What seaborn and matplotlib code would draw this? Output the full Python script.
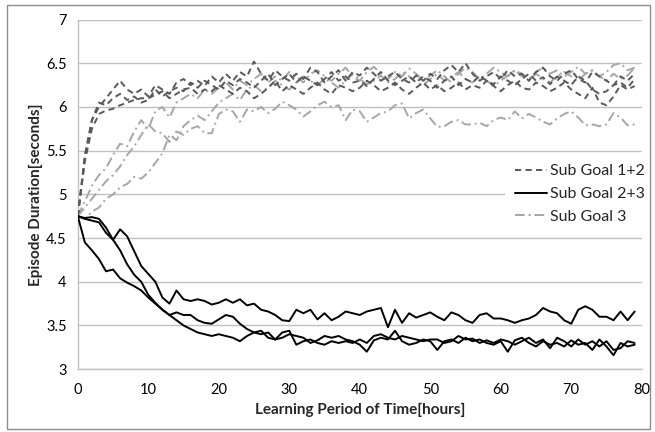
import matplotlib
matplotlib.use("Agg")
import matplotlib.pyplot as plt
import seaborn as sns
import pandas as pd
from matplotlib.lines import Line2D
from matplotlib.patches import Rectangle

hours = list(range(80))

goal12_run1 = [4.75,5.45,5.85,6.00,6.10,6.20,6.30,6.20,6.15,6.20,
               6.12,6.25,6.20,6.15,6.28,6.32,6.25,6.30,6.24,6.35,
               6.28,6.38,6.30,6.40,6.35,6.52,6.38,6.30,6.42,6.35,
               6.30,6.38,6.32,6.45,6.40,6.28,6.35,6.42,6.30,6.40,
               6.36,6.45,6.38,6.30,6.35,6.40,6.32,6.28,6.36,6.30,
               6.38,6.32,6.42,6.48,6.40,6.50,6.38,6.30,6.35,6.40,
               6.32,6.42,6.35,6.38,6.30,6.40,6.45,6.35,6.30,6.38,
               6.42,6.32,6.28,6.40,6.35,6.30,6.25,6.35,6.30,6.38]
goal12_run2 = [4.75,5.38,5.75,5.92,5.96,5.98,6.02,6.05,6.08,6.10,
               6.10,6.14,6.18,6.10,6.15,6.20,6.22,6.15,6.20,6.18,
               6.25,6.20,6.15,6.22,6.18,6.10,6.15,6.22,6.30,6.18,
               6.25,6.20,6.15,6.22,6.28,6.20,6.15,6.25,6.22,6.18,
               6.22,6.30,6.25,6.18,6.22,6.28,6.20,6.15,6.22,6.28,
               6.20,6.25,6.18,6.22,6.28,6.20,6.25,6.22,6.30,6.24,
               6.18,6.25,6.30,6.22,6.20,6.28,6.24,6.18,6.22,6.28,
               6.20,6.15,6.10,6.22,6.05,6.02,6.12,6.25,6.20,6.24]
goal12_run3 = [4.75,5.42,5.85,6.05,6.02,6.10,6.15,6.08,6.12,6.05,
               6.08,6.20,6.12,6.18,6.22,6.18,6.28,6.22,6.30,6.25,
               6.20,6.30,6.25,6.32,6.28,6.22,6.30,6.38,6.25,6.32,
               6.38,6.28,6.35,6.30,6.25,6.32,6.40,6.30,6.35,6.28,
               6.30,6.24,6.32,6.40,6.30,6.25,6.30,6.35,6.28,6.35,
               6.30,6.22,6.30,6.35,6.25,6.32,6.28,6.36,6.30,6.26,
               6.35,6.30,6.25,6.32,6.38,6.30,6.34,6.26,6.35,6.30,
               6.25,6.35,6.30,6.20,6.15,6.18,6.25,6.28,6.22,6.32]

goal23_run1 = [4.75,4.73,4.74,4.72,4.62,4.48,4.60,4.52,4.35,4.18,
               4.09,4.00,3.82,3.75,3.90,3.80,3.78,3.80,3.78,3.74,
               3.76,3.80,3.76,3.80,3.73,3.75,3.68,3.66,3.62,3.56,
               3.55,3.68,3.64,3.68,3.57,3.64,3.56,3.60,3.66,3.64,
               3.62,3.66,3.68,3.70,3.48,3.68,3.53,3.64,3.59,3.62,
               3.65,3.60,3.56,3.65,3.62,3.56,3.53,3.62,3.64,3.58,
               3.58,3.56,3.53,3.56,3.58,3.62,3.70,3.66,3.64,3.56,
               3.52,3.68,3.72,3.68,3.60,3.60,3.56,3.66,3.56,3.66]
goal23_run2 = [4.75,4.45,4.36,4.26,4.12,4.14,4.04,3.99,3.95,3.90,
               3.82,3.75,3.68,3.62,3.65,3.62,3.62,3.56,3.53,3.52,
               3.57,3.62,3.60,3.52,3.46,3.42,3.40,3.42,3.34,3.36,
               3.40,3.38,3.36,3.30,3.33,3.38,3.36,3.38,3.34,3.32,
               3.28,3.20,3.33,3.36,3.34,3.44,3.32,3.28,3.30,3.34,
               3.32,3.22,3.32,3.34,3.30,3.36,3.32,3.34,3.30,3.28,
               3.32,3.20,3.33,3.36,3.30,3.26,3.32,3.28,3.30,3.26,
               3.33,3.28,3.30,3.22,3.34,3.26,3.16,3.30,3.26,3.28]
goal23_run3 = [4.75,4.72,4.70,4.68,4.56,4.48,4.36,4.20,4.08,4.00,
               3.85,3.76,3.68,3.62,3.56,3.50,3.46,3.42,3.40,3.38,
               3.40,3.38,3.36,3.32,3.38,3.42,3.44,3.36,3.34,3.42,
               3.44,3.28,3.32,3.34,3.30,3.28,3.32,3.30,3.32,3.30,
               3.34,3.30,3.38,3.40,3.36,3.34,3.38,3.36,3.34,3.32,
               3.34,3.34,3.30,3.32,3.38,3.34,3.35,3.30,3.33,3.30,
               3.34,3.32,3.28,3.32,3.36,3.30,3.34,3.24,3.36,3.32,
               3.26,3.34,3.28,3.32,3.26,3.32,3.22,3.24,3.32,3.30]

goal3_run1 = [4.75,4.92,5.10,5.22,5.30,5.45,5.58,5.55,5.72,5.85,
              5.75,5.95,6.00,5.88,6.05,6.10,6.15,6.10,6.20,6.15,
              6.22,6.28,6.20,6.30,6.25,6.32,6.38,6.28,6.35,6.30,
              6.40,6.35,6.28,6.38,6.42,6.35,6.30,6.38,6.45,6.35,
              6.30,6.40,6.46,6.38,6.32,6.40,6.35,6.44,6.38,6.30,
              6.36,6.42,6.35,6.28,6.38,6.45,6.40,6.32,6.38,6.45,
              6.40,6.35,6.42,6.38,6.32,6.40,6.45,6.38,6.42,6.35,
              6.40,6.46,6.38,6.42,6.35,6.40,6.48,6.50,6.42,6.45]
goal3_run2 = [4.75,4.85,4.95,5.05,5.15,5.22,5.32,5.45,5.55,5.68,
              5.80,5.72,5.70,5.60,5.72,5.68,5.75,5.78,5.70,5.70,
              5.92,5.97,5.95,5.83,5.97,5.95,6.00,5.93,5.98,6.06,
              6.02,5.97,5.89,5.95,6.02,6.06,6.00,6.02,5.85,5.97,
              5.95,5.83,5.88,5.93,5.95,6.02,6.04,5.87,5.93,5.97,
              5.87,5.77,5.78,5.83,5.85,5.80,5.80,5.82,5.78,5.85,
              5.88,5.85,5.95,5.87,5.92,5.88,5.83,5.80,5.87,5.92,
              5.95,5.88,5.79,5.80,5.78,5.80,5.93,5.88,5.79,5.80]
goal3_run3 = [4.75,4.72,4.80,4.85,4.95,5.00,5.08,5.12,5.20,5.18,
              5.25,5.36,5.47,5.68,5.62,5.78,5.85,5.90,5.85,5.95,
              6.05,6.10,6.15,6.08,6.20,6.25,6.18,6.22,6.30,6.25,
              6.20,6.28,6.35,6.30,6.25,6.32,6.28,6.22,6.30,6.38,
              6.32,6.26,6.30,6.36,6.28,6.32,6.40,6.35,6.28,6.25,
              6.32,6.38,6.30,6.34,6.40,6.32,6.28,6.35,6.30,6.24,
              6.30,6.36,6.42,6.35,6.30,6.38,6.32,6.28,6.35,6.40,
              6.35,6.30,6.38,6.42,6.35,6.30,6.38,6.32,6.36,6.45]

group_names = ["Sub Goal 1+2", "Sub Goal 2+3", "Sub Goal 3"]
x_ticks = [0, 10, 20, 30, 40, 50, 60, 70, 80]
y_ticks = [3, 3.5, 4, 4.5, 5, 5.5, 6, 6.5, 7]
y_tick_labels = ["3", "3.5", "4", "4.5", "5", "5.5", "6", "6.5", "7"]

runs_by_group = {
    "Sub Goal 1+2": [goal12_run1, goal12_run2, goal12_run3],
    "Sub Goal 2+3": [goal23_run1, goal23_run2, goal23_run3],
    "Sub Goal 3": [goal3_run1, goal3_run2, goal3_run3],
}

rows = []
for g in ["Sub Goal 3", "Sub Goal 1+2", "Sub Goal 2+3"]:
    for i, vals in enumerate(runs_by_group[g]):
        for h, v in zip(hours, vals):
            rows.append((g, f"{g}-{i}", h, v))
df = pd.DataFrame(rows, columns=["group", "run", "hour", "value"])

sns.set_theme(style="white")
plt.rcParams['font.family'] = ['Lato', 'DejaVu Sans']

palette = {"Sub Goal 1+2": "#595959", "Sub Goal 2+3": "#000000", "Sub Goal 3": "#a6a6a6"}
dashes = {"Sub Goal 1+2": (3.2, 2.2), "Sub Goal 2+3": "", "Sub Goal 3": (5, 2, 1, 2)}

fig = plt.figure(figsize=(6.55, 4.32), dpi=100)
ax = fig.add_axes([0.1188, 0.1454, 0.8609, 0.8093])

sns.lineplot(data=df, x="hour", y="value", hue="group", style="group",
             units="run", estimator=None, palette=palette, dashes=dashes,
             linewidth=1.4, legend=False, ax=ax, sort=False, zorder=3)

ax.set_xlim(0, 80)
ax.set_ylim(3, 7)
ax.set_xticks(x_ticks)
ax.set_xticklabels([str(t) for t in x_ticks])
ax.set_yticks(y_ticks)
ax.set_yticklabels(y_tick_labels)
ax.yaxis.grid(True, color="#c0c0c0", linewidth=1.0, zorder=0)
ax.xaxis.grid(False)
ax.set_axisbelow(True)
for s in ["top", "right"]:
    ax.spines[s].set_visible(False)
for s in ["left", "bottom"]:
    ax.spines[s].set_color("#c0c0c0")
    ax.spines[s].set_linewidth(1.0)
ax.tick_params(axis="both", direction="out", length=5, width=1, color="#c0c0c0",
               labelsize=10.5, labelcolor="#000000", pad=3)
ax.tick_params(axis="x", pad=5)

ax.set_xlabel("Learning Period of Time[hours]", fontsize=11, fontweight="bold")
ax.set_ylabel("Episode Duration[seconds]", fontsize=11, fontweight="bold")
ax.xaxis.set_label_coords(0.5, -0.097)
ax.yaxis.set_label_coords(-0.061, 0.5)

handles = [Line2D([0], [0], color=palette[g], lw=1.4,
                  dashes=dashes[g] if dashes[g] else (None, None)) for g in group_names]
handles[1].set_linestyle("-")
leg = ax.legend(handles, group_names, loc="center left",
                bbox_to_anchor=(505 / 655, 1 - 194 / 432), bbox_transform=fig.transFigure,
                frameon=True, facecolor="white", edgecolor="none", framealpha=1,
                fontsize=11.5, handlelength=2.0, handletextpad=0.2,
                labelspacing=0.55, borderpad=0.6, borderaxespad=0)
leg.set_zorder(5)

fig.patches.append(Rectangle((6.5 / 655, 3 / 432), 643 / 655, 424 / 432,
                             transform=fig.transFigure, fill=False,
                             edgecolor="#8c8c8c", linewidth=1.0))

fig.savefig("out.png", dpi=100)
